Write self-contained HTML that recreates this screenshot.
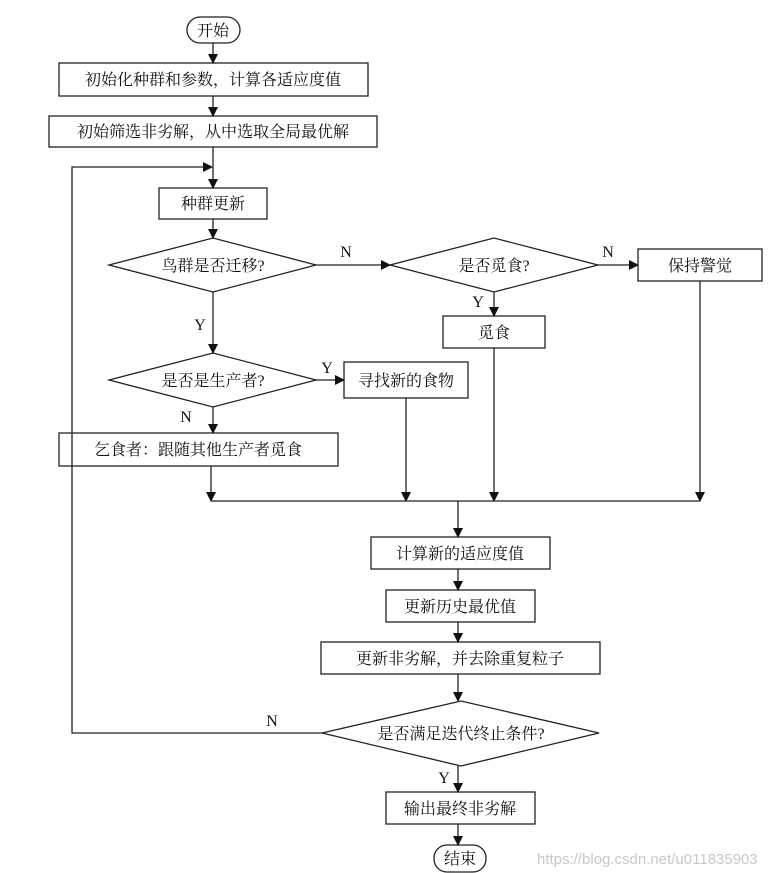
<!DOCTYPE html>
<html><head><meta charset="utf-8"><style>
html,body{margin:0;padding:0;background:#fff;}
svg{display:block;}
text{font-family:"Liberation Serif","Noto Serif CJK SC","Noto Sans CJK SC",serif;font-size:16px;fill:#111;}
</style></head><body>
<svg width="774" height="873" viewBox="0 0 774 873" xmlns="http://www.w3.org/2000/svg">
<defs><marker id="a" markerWidth="10" markerHeight="10" refX="9" refY="5" orient="auto" markerUnits="userSpaceOnUse"><path d="M0,0 L10,5 L0,10 Z" fill="#111"/></marker></defs>
<g stroke="#222" stroke-width="1.3" fill="none">
<rect x="187" y="17" width="53" height="26" rx="13"/>
<rect x="59" y="63" width="309" height="33"/>
<rect x="49" y="116" width="328" height="31"/>
<rect x="159" y="188" width="108" height="31"/>
<polygon points="109,265 213,238 316,265 213,292"/>
<polygon points="390,265 494,238 598,265 494,292"/>
<rect x="638" y="249" width="124" height="32"/>
<rect x="443" y="316" width="102" height="32"/>
<polygon points="109,380 213,353 316,380 213,407"/>
<rect x="344" y="362" width="124" height="36"/>
<rect x="59" y="433" width="279" height="33"/>
<rect x="371" y="537" width="179" height="32"/>
<rect x="386" y="590" width="149" height="32"/>
<rect x="321" y="642" width="279" height="32"/>
<polygon points="322,733 461,701 599,733 461,766"/>
<rect x="386" y="792" width="149" height="32"/>
<rect x="434" y="845" width="52" height="27" rx="13"/>
</g>
<g stroke="#222" stroke-width="1.3" fill="none" marker-end="url(#a)">
<line x1="213" y1="43" x2="213" y2="63"/>
<line x1="213" y1="96" x2="213" y2="116"/>
<line x1="213" y1="147" x2="213" y2="188"/>
<polyline points="322,733 72,733 72,167 212,167"/>
<line x1="213" y1="219" x2="213" y2="238"/>
<line x1="316" y1="265" x2="390" y2="265"/>
<line x1="598" y1="265" x2="638" y2="265"/>
<line x1="494" y1="292" x2="494" y2="316"/>
<line x1="213" y1="292" x2="213" y2="353"/>
<line x1="316" y1="380" x2="344" y2="380"/>
<line x1="213" y1="407" x2="213" y2="433"/>
<line x1="406" y1="398" x2="406" y2="501"/>
<line x1="494" y1="348" x2="494" y2="501"/>
<line x1="700" y1="281" x2="700" y2="501"/>
<line x1="211" y1="466" x2="211" y2="501"/>
<line x1="458" y1="501" x2="458" y2="537"/>
<line x1="458" y1="569" x2="458" y2="590"/>
<line x1="458" y1="622" x2="458" y2="642"/>
<line x1="458" y1="674" x2="458" y2="701"/>
<line x1="458" y1="766" x2="458" y2="792"/>
<line x1="458" y1="824" x2="458" y2="845"/>
</g>
<line x1="211" y1="501" x2="700" y2="501" stroke="#222" stroke-width="1.3"/>
<g text-anchor="middle">
<text x="213" y="36">开始</text>
<text x="213" y="85">初始化种群和参数，计算各适应度值</text>
<text x="213" y="137">初始筛选非劣解，从中选取全局最优解</text>
<text x="213" y="209">种群更新</text>
<text x="213" y="271">鸟群是否迁移?</text>
<text x="494" y="271">是否觅食?</text>
<text x="700" y="271">保持警觉</text>
<text x="494" y="338">觅食</text>
<text x="213" y="386">是否是生产者?</text>
<text x="406" y="386">寻找新的食物</text>
<text x="198" y="455">乞食者：跟随其他生产者觅食</text>
<text x="460" y="559">计算新的适应度值</text>
<text x="460" y="612">更新历史最优值</text>
<text x="460" y="664">更新非劣解，并去除重复粒子</text>
<text x="461" y="739">是否满足迭代终止条件?</text>
<text x="460" y="814">输出最终非劣解</text>
<text x="460" y="864">结束</text>
<text x="346" y="257">N</text>
<text x="608" y="257">N</text>
<text x="478" y="307">Y</text>
<text x="200" y="330">Y</text>
<text x="327" y="373">Y</text>
<text x="186" y="422">N</text>
<text x="272" y="726">N</text>
<text x="444" y="783">Y</text>
</g>
<text x="537" y="864" style="font-family:'Liberation Sans',sans-serif;font-size:15px;fill:#c8c8c8">https://blog.csdn.net/u011835903</text>
</svg>
</body></html>
